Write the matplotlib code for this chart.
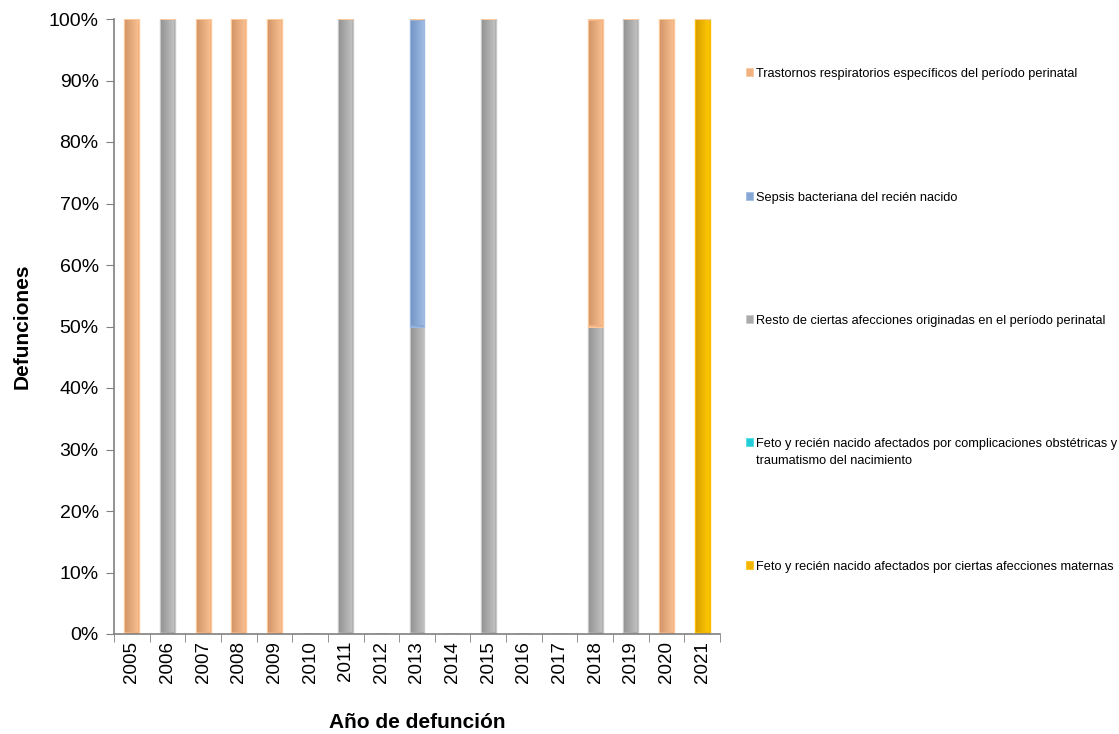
import numpy as np
import matplotlib
matplotlib.use("Agg")
import matplotlib.pyplot as plt
from matplotlib.colors import LinearSegmentedColormap
from matplotlib.patches import Rectangle

plt.rcParams['font.family'] = ['Liberation Sans', 'DejaVu Sans']

# Data (percent of deaths per year)
years = ['2005', '2006', '2007', '2008', '2009', '2010', '2011', '2012', '2013',
         '2014', '2015', '2016', '2017', '2018', '2019', '2020', '2021']

# stacked bottom -> top
feto_maternas = [0, 0, 0, 0, 0, 0, 0, 0, 0, 0, 0, 0, 0, 0, 0, 0, 100]
feto_complic = [0] * 17
resto = [0, 100, 0, 0, 0, 0, 100, 0, 50, 0, 100, 0, 0, 50, 100, 0, 0]
sepsis = [0, 0, 0, 0, 0, 0, 0, 0, 50, 0, 0, 0, 0, 0, 0, 0, 0]
trastornos = [100, 0, 100, 100, 100, 0, 0, 0, 0, 0, 0, 0, 0, 50, 0, 100, 0]

series = [
    ('Feto y recién nacido afectados por ciertas afecciones maternas', feto_maternas,
     '#F2B600', ('#D9A000', '#FFC800'), '#FFC000'),
    ('Feto y recién nacido afectados por complicaciones obstétricas y\ntraumatismo del nacimiento', feto_complic,
     '#22CCD8', ('#10A8B8', '#50E6F0'), '#40DDE8'),
    ('Resto de ciertas afecciones originadas en el período perinatal', resto,
     '#AAAAAA', ('#959595', '#C0C0C0'), '#C8C8C8'),
    ('Sepsis bacteriana del recién nacido', sepsis,
     '#86A6D4', ('#7595C6', '#A0BCE4'), '#9DB9E3'),
    ('Trastornos respiratorios específicos del período perinatal', trastornos,
     '#F0B080', ('#D4966A', '#F8BE8E'), '#FCC898'),
]

fig = plt.figure(figsize=(11.19, 7.34), dpi=100)
ax = fig.add_axes([114 / 1119, 100 / 734, 606 / 1119, 615 / 734])

x = np.arange(len(years))
width = 0.42
bottom = np.zeros(len(years))
for label, vals, color, grad, edge in series:
    vals = np.array(vals, dtype=float)
    bars = ax.bar(x, vals, width, bottom=bottom, color=color, edgecolor=edge,
                  linewidth=1.0, zorder=2)
    cmap = LinearSegmentedColormap.from_list('g', list(grad))
    for b, v in zip(bars, vals):
        if v <= 0:
            continue
        x0, y0 = b.get_x(), b.get_y()
        im = ax.imshow(np.linspace(0, 1, 50).reshape(1, -1), cmap=cmap, aspect='auto',
                       extent=(x0 + 0.03, x0 + b.get_width() - 0.03, y0 + 0.3, y0 + v - 0.3),
                       zorder=2.5)
        im.set_clip_path(b)
    bottom += vals

ax.set_xlim(-0.5, len(years) - 0.5)
ax.set_ylim(0, 100)
ax.set_yticks(np.arange(0, 101, 10))
ax.set_yticklabels([f'{v}%' for v in range(0, 101, 10)], fontsize=14)
ax.set_xticks(x)
ax.set_xticklabels(years, rotation=90, fontsize=13.5)
ax.set_xticks(np.arange(-0.5, len(years), 1), minor=True)
ax.tick_params(axis='x', which='major', length=0, pad=5)
ax.tick_params(axis='x', which='minor', length=6, color='#808080')
ax.tick_params(axis='y', length=6, color='#808080', pad=5)
for s in ['top', 'right']:
    ax.spines[s].set_visible(False)
for s in ['left', 'bottom']:
    ax.spines[s].set_color('#808080')
    ax.spines[s].set_linewidth(1.2)

ax.set_ylabel('Defunciones', fontsize=15, fontweight='bold', labelpad=12)
ax.set_xlabel('Año de defunción', fontsize=15, fontweight='bold', labelpad=22)

# Legend, listed top to bottom
legend_y = [72, 196, 319, 442, 565]
for (label, vals, color, grad, edge), ly in zip(series[::-1], legend_y):
    fy = 1 - ly / 734
    fig.patches.append(Rectangle((746 / 1119, fy - 4 / 734), 7 / 1119, 8 / 734,
                                 transform=fig.transFigure, facecolor=color,
                                 edgecolor=edge, linewidth=0.5))
    fig.text(756 / 1119, fy + 4 / 734, label, fontsize=9.2, va='top', ha='left',
             linespacing=1.55)

fig.savefig('out.png', dpi=100)
